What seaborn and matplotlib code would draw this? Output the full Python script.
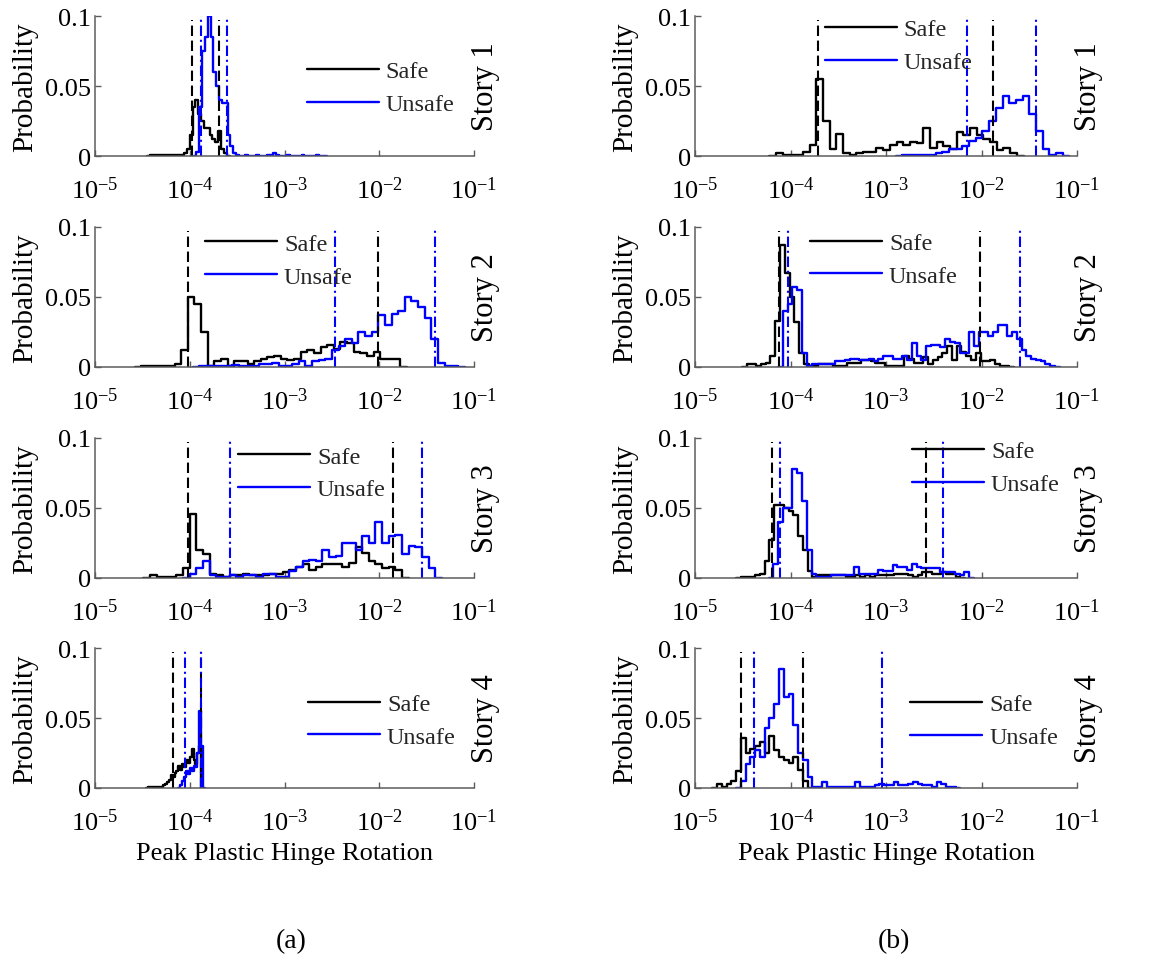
import numpy as np
import pandas as pd
import matplotlib
matplotlib.use("Agg")
import matplotlib.pyplot as plt
from matplotlib.ticker import NullLocator, FixedLocator, FixedFormatter
import seaborn as sns

# ---------------------------------------------------------------------------
# Histogram data: each series has a bin spec (log10 of first edge, bin width in
# decades) and the probability of every bin; *_marks are the two bounds drawn
# as vertical reference lines.
# ---------------------------------------------------------------------------
stories = ["Story 1", "Story 2", "Story 3", "Story 4"]
series_labels = ["Safe", "Unsafe"]
xlabel_text = "Peak Plastic Hinge Rotation"
ylabel_text = "Probability"
panel_tags = ["(a)", "(b)"]

# (a) story 1
a1_safe_bins = (-4.42, 0.03)
a1_safe_prob = [0.001, 0.001, 0.0005, 0.001, 0.0005, 0.001, 0.001, 0.0005, 0.001,
                0.001, 0.001, 0.001, 0.002, 0.005, 0.015, 0.035, 0.040, 0.030,
                0.025, 0.020, 0.020, 0.015, 0.012, 0.010, 0.018, 0.005, 0.002]
a1_unsafe_bins = (-3.93, 0.03)
a1_unsafe_prob = [0.003, 0.035, 0.075, 0.085, 0.100, 0.085, 0.060, 0.050, 0.040,
                  0.038, 0.038, 0.015, 0.007, 0.002,
                  0.0005, 0.0003, 0.0003, 0.0005, 0.0003, 0.0003, 0.0003, 0.0005,
                  0.0003, 0.0003, 0.0003, 0.0005, 0.001, 0.002, 0.0005, 0.0003,
                  0.0003, 0.0003, 0.0005, 0.0003, 0.0003, 0.0003, 0.0003, 0.0005,
                  0.0003, 0.0003, 0.0003, 0.0003, 0.0005, 0.0003, 0.0003]
a1_safe_marks = [1.06e-4, 2.04e-4]
a1_unsafe_marks = [1.32e-4, 2.50e-4]

# (a) story 2
a2_safe_bins = (-4.51, 0.07)
a2_safe_prob = [0.001, 0.0005, 0.001, 0.0005, 0.001, 0.002, 0.012, 0.050, 0.045,
                0.025, 0.001, 0.004, 0.006, 0.001, 0.004, 0.004, 0.002, 0.004,
                0.006, 0.007, 0.008, 0.006, 0.005, 0.006, 0.011, 0.012, 0.010,
                0.014, 0.016, 0.013, 0.018, 0.017, 0.011, 0.010, 0.008, 0.011,
                0.006, 0.006, 0.006]
a2_unsafe_bins = (-3.90, 0.07)
a2_unsafe_prob = [0.0005, 0.001, 0.001, 0.001, 0.001, 0.0015, 0.0005, 0.001, 0.001,
                  0.002, 0.002, 0.003, 0.001, 0.001, 0.002, 0.004, 0.001, 0.004,
                  0.005, 0.006, 0.012, 0.015, 0.020, 0.017, 0.025, 0.022, 0.025,
                  0.037, 0.030, 0.038, 0.040, 0.050, 0.047, 0.043, 0.035, 0.020,
                  0.003, 0.001, 0.001]
a2_safe_marks = [9.7e-5, 9.8e-3]
a2_unsafe_marks = [3.4e-3, 3.9e-2]

# (a) story 3
a3_safe_bins = (-4.42, 0.07)
a3_safe_prob = [0.002, 0.0005, 0.001, 0.001, 0.002, 0.007, 0.046, 0.020, 0.017,
                0.003, 0.002, 0.001, 0.002, 0.002, 0.003, 0.002, 0.002, 0.002,
                0.003, 0.003, 0.004, 0.006, 0.008, 0.010, 0.006, 0.008, 0.010,
                0.010, 0.010, 0.008, 0.011, 0.022, 0.018, 0.012, 0.010, 0.007,
                0.008, 0.006]
a3_unsafe_bins = (-4.00, 0.07)
a3_unsafe_prob = [0.003, 0.007, 0.012, 0.002, 0.0005, 0.0005, 0.002, 0.001, 0.002,
                  0.002, 0.001, 0.003, 0.003, 0.001, 0.001, 0.005, 0.008, 0.012,
                  0.013, 0.012, 0.020, 0.015, 0.016, 0.025, 0.025, 0.020, 0.030,
                  0.025, 0.040, 0.025, 0.030, 0.031, 0.017, 0.023, 0.022, 0.015,
                  0.007]
a3_safe_marks = [9.7e-5, 1.41e-2]
a3_unsafe_marks = [2.66e-4, 2.8e-2]

# (a) story 4
a4_safe_bins = (-4.44, 0.02)
a4_safe_prob = [0.0005, 0.001, 0.0005, 0.0005, 0.001, 0.0005, 0.001, 0.001, 0.002,
                0.003, 0.004, 0.006, 0.009, 0.008, 0.011, 0.012, 0.016, 0.013,
                0.017, 0.015, 0.020, 0.018, 0.022, 0.028, 0.020, 0.017, 0.025,
                0.030]
a4_unsafe_bins = (-4.10, 0.02)
a4_unsafe_prob = [0.002, 0.005, 0.008, 0.012, 0.010, 0.014, 0.012, 0.016, 0.015,
                  0.025, 0.055, 0.030]
a4_safe_marks = [6.7e-5, 1.31e-4]
a4_unsafe_marks = [9.0e-5, 1.31e-4]

# (b) story 1
b1_safe_bins = (-4.15, 0.07)
b1_safe_prob = [0.002, 0.001, 0.001, 0.001, 0.003, 0.008, 0.055, 0.025, 0.005,
                0.016, 0.002, 0.001, 0.002, 0.003, 0.003, 0.006, 0.004, 0.008,
                0.010, 0.008, 0.010, 0.009, 0.020, 0.006, 0.010, 0.007, 0.005,
                0.017, 0.015, 0.020, 0.015, 0.012, 0.010, 0.004, 0.006, 0.002]
b1_unsafe_bins = (-2.83, 0.07)
b1_unsafe_prob = [0.0005, 0.001, 0.0005, 0.001, 0.001, 0.002, 0.003, 0.005, 0.005,
                  0.007, 0.011, 0.013, 0.018, 0.025, 0.034, 0.043, 0.038, 0.040,
                  0.043, 0.030, 0.018, 0.005, 0.001, 0.002]
b1_safe_marks = [1.96e-4, 1.32e-2]
b1_unsafe_marks = [7.0e-3, 3.75e-2]

# (b) story 2
b2_safe_bins = (-4.46, 0.05)
b2_safe_prob = [0.002, 0.002, 0.001, 0.002, 0.003, 0.008, 0.033, 0.087, 0.067,
                0.050, 0.032, 0.010, 0.002, 0.001, 0.001, 0.002, 0.002, 0.002,
                0.001, 0.001, 0.001, 0.003, 0.003, 0.003, 0.005, 0.005, 0.004,
                0.003, 0.003, 0.001, 0.001, 0.001, 0.001, 0.008, 0.006, 0.003,
                0.003, 0.007, 0.002, 0.005, 0.007, 0.010, 0.015, 0.005, 0.015,
                0.011, 0.008, 0.005, 0.010, 0.004, 0.004, 0.005, 0.002, 0.001,
                0.001]
b2_unsafe_bins = (-4.08, 0.05)
b2_unsafe_prob = [0.040, 0.045, 0.057, 0.055, 0.010, 0.001, 0.002, 0.002, 0.002,
                  0.002, 0.002, 0.004, 0.004, 0.005, 0.006, 0.006, 0.005, 0.005,
                  0.006, 0.004, 0.006, 0.008, 0.008, 0.006, 0.006, 0.008, 0.005,
                  0.017, 0.008, 0.005, 0.015, 0.016, 0.016, 0.014, 0.020, 0.018,
                  0.017, 0.010, 0.010, 0.025, 0.015, 0.025, 0.025, 0.022, 0.025,
                  0.030, 0.030, 0.022, 0.025, 0.020, 0.012, 0.008, 0.006, 0.005,
                  0.004, 0.002, 0.001]
b2_safe_marks = [7.66e-5, 9.55e-3]
b2_unsafe_marks = [9.35e-5, 2.5e-2]

# (b) story 3
b3_safe_bins = (-4.52, 0.05)
b3_safe_prob = [0.001, 0.0005, 0.001, 0.002, 0.003, 0.012, 0.027, 0.052, 0.052,
                0.050, 0.048, 0.045, 0.030, 0.020, 0.005, 0.001, 0.002, 0.002,
                0.002, 0.002, 0.002, 0.002, 0.001, 0.001, 0.002, 0.001, 0.002,
                0.001, 0.002, 0.002, 0.002, 0.002, 0.003, 0.003, 0.003, 0.002,
                0.001, 0.002, 0.004, 0.004, 0.003, 0.003, 0.004, 0.003, 0.003,
                0.001]
b3_unsafe_bins = (-4.18, 0.05)
b3_unsafe_prob = [0.010, 0.040, 0.050, 0.050, 0.078, 0.075, 0.055, 0.020, 0.003,
                  0.001, 0.001, 0.001, 0.002, 0.002, 0.002, 0.002, 0.002, 0.008,
                  0.003, 0.003, 0.003, 0.003, 0.006, 0.005, 0.005, 0.009, 0.008,
                  0.008, 0.006, 0.010, 0.008, 0.007, 0.007, 0.007, 0.007, 0.004,
                  0.004, 0.004, 0.003, 0.002, 0.004]
b3_safe_marks = [6.36e-5, 2.6e-3]
b3_unsafe_marks = [7.8e-5, 3.94e-3]

# (b) story 4
b4_safe_bins = (-4.77, 0.05)
b4_safe_prob = [0.003, 0.001, 0.003, 0.005, 0.012, 0.036, 0.025, 0.028, 0.030,
                0.033, 0.025, 0.037, 0.027, 0.022, 0.020, 0.018, 0.022, 0.013,
                0.005]
b4_unsafe_bins = (-4.52, 0.05)
b4_unsafe_prob = [0.005, 0.017, 0.022, 0.027, 0.022, 0.043, 0.050, 0.060, 0.085,
                  0.065, 0.067, 0.045, 0.025, 0.020, 0.008, 0.001, 0.001, 0.004,
                  0.001, 0.001, 0.001, 0.001, 0.001, 0.001, 0.004, 0.001, 0.001,
                  0.001, 0.002, 0.003, 0.002, 0.002, 0.004, 0.002, 0.002, 0.003,
                  0.004, 0.003, 0.002, 0.002, 0.001, 0.004, 0.003, 0.001, 0.001]
b4_safe_marks = [3.03e-5, 1.34e-4]
b4_unsafe_marks = [4.19e-5, 9.03e-4]

x_ticks = [1e-5, 1e-4, 1e-3, 1e-2, 1e-1]
y_ticks = [0, 0.05, 0.1]
y_tick_labels = ["0", "0.05", "0.1"]

# ---------------------------------------------------------------------------
# Panel table
# ---------------------------------------------------------------------------
panels = [
    # column, row, safe, unsafe, marks, legend anchor (axes fraction)
    (0, 0, (a1_safe_bins, a1_safe_prob), (a1_unsafe_bins, a1_unsafe_prob),
     a1_safe_marks, a1_unsafe_marks, (0.559, 0.489)),
    (0, 1, (a2_safe_bins, a2_safe_prob), (a2_unsafe_bins, a2_unsafe_prob),
     a2_safe_marks, a2_unsafe_marks, (0.290, 0.764)),
    (0, 2, (a3_safe_bins, a3_safe_prob), (a3_unsafe_bins, a3_unsafe_prob),
     a3_safe_marks, a3_unsafe_marks, (0.377, 0.750)),
    (0, 3, (a4_safe_bins, a4_safe_prob), (a4_unsafe_bins, a4_unsafe_prob),
     a4_safe_marks, a4_unsafe_marks, (0.562, 0.482)),
    (1, 0, (b1_safe_bins, b1_safe_prob), (b1_unsafe_bins, b1_unsafe_prob),
     b1_safe_marks, b1_unsafe_marks, (0.340, 0.786)),
    (1, 1, (b2_safe_bins, b2_safe_prob), (b2_unsafe_bins, b2_unsafe_prob),
     b2_safe_marks, b2_unsafe_marks, (0.301, 0.768)),
    (1, 2, (b3_safe_bins, b3_safe_prob), (b3_unsafe_bins, b3_unsafe_prob),
     b3_safe_marks, b3_unsafe_marks, (0.568, 0.789)),
    (1, 3, (b4_safe_bins, b4_safe_prob), (b4_unsafe_bins, b4_unsafe_prob),
     b4_safe_marks, b4_unsafe_marks, (0.563, 0.479)),
]

# ---------------------------------------------------------------------------
# Style
# ---------------------------------------------------------------------------
sns.set_theme(style="white")
plt.rcParams["font.family"] = ["Liberation Serif", "DejaVu Serif"]
plt.rcParams["mathtext.fontset"] = "custom"
plt.rcParams["mathtext.rm"] = "Liberation Serif"
plt.rcParams["mathtext.it"] = "Liberation Serif:italic"
plt.rcParams["mathtext.bf"] = "Liberation Serif:bold"
plt.rcParams["axes.unicode_minus"] = True

SAFE_COLOR = "#000000"
UNSAFE_COLOR = "#0000ff"
AXIS_COLOR = "#5c5c5c"
HIST_LW = 1.7

W, H = 1158, 962
col_left = [95, 695]
col_width = [379, 382]
row_top = [17, 228, 439, 649]
row_height = 140

fig = plt.figure(figsize=(W / 100, H / 100), dpi=100)
fig.patch.set_facecolor("white")


def draw_hist(ax, spec, color):
    (start, width), probs = spec
    probs = np.asarray(probs, dtype=float)
    n = len(probs)
    # close the outline on the baseline at both ends
    padded = np.concatenate([[0.0], probs, [0.0]])
    edges = start + width * np.arange(-1, n + 2)
    centers = 10 ** (edges[:-1] + width / 2)
    df = pd.DataFrame({"rotation": centers, "prob": padded})
    sns.histplot(data=df, x="rotation", weights="prob", bins=edges.tolist(),
                 log_scale=True, element="step", fill=False, stat="count",
                 color=color, linewidth=HIST_LW, ax=ax)
    return ax.lines[-1]


for col, row, safe, unsafe, safe_marks, unsafe_marks, leg_anchor in panels:
    left = col_left[col] / W
    bottom = 1 - (row_top[row] + row_height) / H
    ax = fig.add_axes([left, bottom, col_width[col] / W, row_height / H])
    ax.set_facecolor("white")

    safe_line = draw_hist(ax, safe, SAFE_COLOR)
    unsafe_line = draw_hist(ax, unsafe, UNSAFE_COLOR)

    for xv in safe_marks:
        ax.axvline(xv, ymin=0, ymax=0.97, color=SAFE_COLOR, lw=1.5,
                   linestyle=(0, (5, 2.2)))
    for xv in unsafe_marks:
        ax.axvline(xv, ymin=0, ymax=1, color=UNSAFE_COLOR, lw=1.5,
                   linestyle=(0, (5, 1.8, 1, 1.8)))

    ax.set_xscale("log")
    ax.set_xlim(x_ticks[0], x_ticks[-1])
    ax.set_ylim(0, 0.1)
    ax.xaxis.set_major_locator(FixedLocator(x_ticks))
    ax.xaxis.set_minor_locator(NullLocator())
    ax.yaxis.set_major_locator(FixedLocator(y_ticks))
    ax.yaxis.set_major_formatter(FixedFormatter(y_tick_labels))
    ax.yaxis.set_minor_locator(NullLocator())

    for side in ("top", "right"):
        ax.spines[side].set_visible(False)
    for side in ("left", "bottom"):
        ax.spines[side].set_color(AXIS_COLOR)
        ax.spines[side].set_linewidth(1.1)

    ax.tick_params(axis="both", which="major", direction="in", length=4,
                   width=1.0, color=AXIS_COLOR, labelsize=19,
                   labelcolor="black", bottom=True, left=True)
    ax.tick_params(axis="x", pad=15)
    ax.tick_params(axis="y", pad=3)

    ax.set_ylabel(ylabel_text, fontsize=21, labelpad=5, color="black")
    if row == 3:
        ax.set_xlabel(xlabel_text, fontsize=19, labelpad=5, color="black")
    else:
        ax.set_xlabel("")

    ax.text(1.03, 0.5, stories[row], rotation=90, transform=ax.transAxes,
            ha="center", va="center", fontsize=22, color="black")

    ax.legend(handles=[safe_line, unsafe_line], labels=series_labels,
              loc="center left", bbox_to_anchor=leg_anchor, frameon=False,
              fontsize=17.5, handlelength=2.95, handletextpad=0.3,
              labelspacing=0.45, borderpad=0, borderaxespad=0)

fig.text(291 / W, 1 - 942 / H, panel_tags[0], ha="center", va="center",
         fontsize=20, color="black")
fig.text(894 / W, 1 - 942 / H, panel_tags[1], ha="center", va="center",
         fontsize=20, color="black")

fig.savefig("out.png", dpi=100, facecolor="white")
